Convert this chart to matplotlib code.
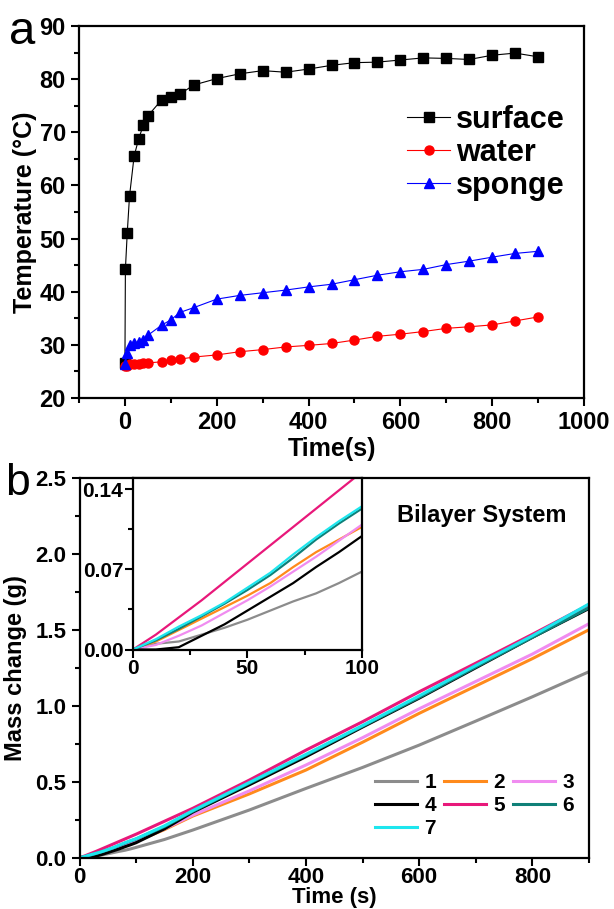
import matplotlib
matplotlib.use("Agg")
import matplotlib.pyplot as plt
from matplotlib.ticker import MultipleLocator, FixedLocator, FormatStrFormatter

plt.rcParams['font.family'] = ['Liberation Sans', 'DejaVu Sans']
plt.rcParams['font.weight'] = 'bold'
plt.rcParams['axes.labelweight'] = 'bold'

# ---- panel a: temperature vs time ----
t_surface = [0, 1, 5, 10, 20, 30, 40, 50, 80, 100, 120, 150, 200, 250, 300, 350,
             400, 450, 500, 550, 600, 650, 700, 750, 800, 850, 900]
T_surface = [26.5, 44.2, 51.0, 58.0, 65.5, 68.8, 71.3, 73.1, 76.1, 76.7, 77.2, 78.9,
             80.1, 81.0, 81.6, 81.3, 81.9, 82.6, 83.1, 83.2, 83.6, 84.0, 83.9, 83.7,
             84.5, 84.9, 84.2]

t_ws = [0, 5, 10, 20, 30, 40, 50, 80, 100, 120, 150, 200, 250, 300, 350, 400,
        450, 500, 550, 600, 650, 700, 750, 800, 850, 900]
T_water = [26.0, 26.1, 26.3, 26.4, 26.4, 26.5, 26.6, 26.8, 27.1, 27.3, 27.7, 28.1,
           28.7, 29.1, 29.6, 29.9, 30.25, 30.9, 31.6, 32.0, 32.5, 33.1, 33.4, 33.75,
           34.5, 35.25]
T_sponge = [26.4, 28.4, 30.0, 30.25, 30.6, 30.9, 31.8, 33.7, 34.7, 36.1, 37.0, 38.6,
            39.3, 39.8, 40.3, 40.9, 41.4, 42.25, 43.1, 43.75, 44.2, 45.1, 45.75, 46.5,
            47.2, 47.6]

# ---- panel b: mass change vs time ----
t_mass = [0, 10, 20, 30, 40, 50, 60, 70, 80, 90, 100, 150, 200, 300, 400, 500,
          600, 700, 800, 900]
mass = {
    '1': [0, 0.005, 0.007, 0.013, 0.019, 0.026, 0.034, 0.042, 0.049, 0.058, 0.068,
          0.12, 0.182, 0.314, 0.456, 0.594, 0.741, 0.899, 1.059, 1.224],
    '2': [0, 0.007, 0.017, 0.027, 0.037, 0.047, 0.058, 0.072, 0.085, 0.096, 0.107,
          0.185, 0.274, 0.42, 0.577, 0.76, 0.95, 1.13, 1.31, 1.50],
    '3': [0, 0.004, 0.012, 0.021, 0.032, 0.043, 0.055, 0.068, 0.081, 0.095, 0.109,
          0.19, 0.28, 0.44, 0.61, 0.79, 0.98, 1.16, 1.34, 1.54],
    '4': [0, 0, 0.002, 0.012, 0.022, 0.034, 0.046, 0.058, 0.072, 0.085, 0.099,
          0.19, 0.30, 0.48, 0.665, 0.86, 1.05, 1.25, 1.45, 1.64],
    '5': [0, 0.013, 0.028, 0.043, 0.059, 0.075, 0.091, 0.107, 0.123, 0.139, 0.155,
          0.24, 0.325, 0.511, 0.708, 0.895, 1.092, 1.28, 1.47, 1.665],
    '6': [0, 0.008, 0.018, 0.029, 0.040, 0.052, 0.065, 0.080, 0.096, 0.110, 0.123,
          0.205, 0.305, 0.49, 0.675, 0.865, 1.055, 1.255, 1.45, 1.645],
    '7': [0, 0.009, 0.020, 0.030, 0.041, 0.054, 0.067, 0.083, 0.098, 0.112, 0.125,
          0.21, 0.31, 0.495, 0.68, 0.87, 1.065, 1.265, 1.46, 1.67],
}
mass_colors = {'1': '#8c8c8c', '2': '#ff8a1c', '3': '#f08cf0', '4': '#000000',
               '5': '#e8187a', '6': '#0f8078', '7': '#1ee6ee'}
# legend reads row by row: 1 2 3 / 4 5 6 / 7
legend_order = ['1', '4', '7', '2', '5', '3', '6']


def style_axes(ax, size=17):
    for s in ax.spines.values():
        s.set_linewidth(1.6)
    ax.tick_params(which='both', direction='out', width=1.5, labelsize=size,
                   top=False, right=False)
    ax.tick_params(which='major', length=6)
    ax.tick_params(which='minor', length=3.5)


fig = plt.figure(figsize=(6.14, 9.09), dpi=100)

# panel a
ax1 = fig.add_axes([0.1287, 0.5622, 0.8225, 0.4092])
ax1.plot(t_surface, T_surface, '-s', color='black', lw=0.8, ms=6.5, label='surface')
ax1.plot(t_ws, T_water, '-o', color='red', lw=0.8, ms=6.5, mec='red', label='water')
ax1.plot(t_ws, T_sponge, '-^', color='blue', lw=0.8, ms=7.5, label='sponge')
ax1.set_xlim(-100, 1000)
ax1.set_ylim(20, 90)
ax1.xaxis.set_major_locator(FixedLocator([0, 200, 400, 600, 800, 1000]))
ax1.xaxis.set_minor_locator(MultipleLocator(100))
ax1.yaxis.set_major_locator(MultipleLocator(10))
ax1.yaxis.set_minor_locator(MultipleLocator(5))
style_axes(ax1)
ax1.set_xlabel('Time(s)', fontsize=18, labelpad=2)
ax1.set_ylabel('Temperature (°C)', fontsize=18, labelpad=2)
ax1.legend(loc='upper left', bbox_to_anchor=(0.62, 0.83), frameon=False,
           fontsize=22, handlelength=1.4, handletextpad=0.2, labelspacing=0.1,
           borderpad=0)
fig.text(0.015, 0.952, 'a', fontsize=34, fontweight='normal')

# panel b
ax2 = fig.add_axes([0.1295, 0.0564, 0.8298, 0.418])
lines = {}
for k, ys in mass.items():
    lines[k], = ax2.plot(t_mass, ys, color=mass_colors[k], lw=2.2, label=k)
ax2.set_xlim(0, 900)
ax2.set_ylim(0, 2.5)
ax2.xaxis.set_major_locator(MultipleLocator(200))
ax2.xaxis.set_minor_locator(MultipleLocator(100))
ax2.yaxis.set_major_locator(MultipleLocator(0.5))
ax2.yaxis.set_minor_locator(MultipleLocator(0.25))
ax2.yaxis.set_major_formatter(FormatStrFormatter('%.1f'))
style_axes(ax2, size=16)
ax2.tick_params(axis='x', which='major', pad=1)
ax2.set_xlabel('Time (s)', fontsize=16, labelpad=-1)
ax2.set_ylabel('Mass change (g)', fontsize=17, labelpad=6)
ax2.text(0.955, 0.90, 'Bilayer System', transform=ax2.transAxes, ha='right',
         va='center', fontsize=17)
ax2.legend([lines[k] for k in legend_order], legend_order,
           loc='upper left', bbox_to_anchor=(0.56, 0.25), frameon=False, ncol=3,
           fontsize=15, handlelength=2.0, handletextpad=0.35, columnspacing=0.4,
           labelspacing=0.2, borderpad=0)
fig.text(0.008, 0.455, 'b', fontsize=32, fontweight='normal')

# inset
axi = ax2.inset_axes([0.105, 0.548, 0.449, 0.452])
for k, ys in mass.items():
    axi.plot(t_mass, ys, color=mass_colors[k], lw=1.6)
axi.set_xlim(0, 100)
axi.set_ylim(0, 0.15)
axi.xaxis.set_major_locator(FixedLocator([0, 50, 100]))
axi.xaxis.set_minor_locator(FixedLocator([25, 75]))
axi.yaxis.set_major_locator(FixedLocator([0, 0.07, 0.14]))
axi.yaxis.set_minor_locator(FixedLocator([0.035, 0.105]))
axi.yaxis.set_major_formatter(FormatStrFormatter('%.2f'))
style_axes(axi, size=15)
axi.tick_params(which='major', pad=1)

fig.savefig('out.png', dpi=100)
